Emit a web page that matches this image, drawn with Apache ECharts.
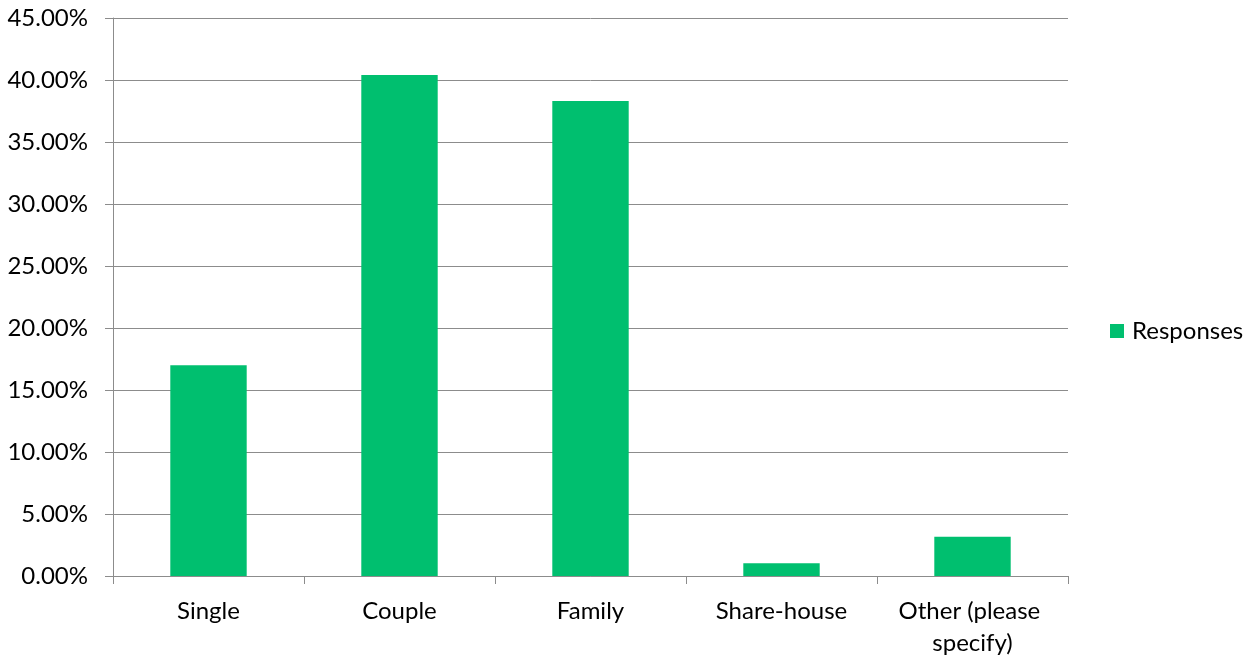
<!DOCTYPE html>
<html>
<head>
<meta charset="utf-8">
<script src="https://cdn.jsdelivr.net/npm/echarts@6/dist/echarts.min.js"></script>
<style>
  html, body { margin: 0; padding: 0; background: #fff; }
  #chart { width: 1258px; height: 660px; }
</style>
</head>
<body>
<div id="chart"></div>
<script>
// Household type of respondents, share of responses (%)
const categories = ['Single', 'Couple', 'Family', 'Share-house', 'Other (please specify)'];
const responses = [17.0, 40.4, 38.3, 1.02, 3.17];
const seriesName = 'Responses';

const FONT = 'Lato, "Open Sans", sans-serif';
const GREEN = '#00BF6F';
const AXIS_GRAY = '#8c8c8c';

const chart = echarts.init(document.getElementById('chart'));
chart.setOption({
  animation: false,
  backgroundColor: '#fff',
  textStyle: { fontFamily: FONT },
  legend: {
    data: [seriesName],
    orient: 'vertical',
    left: 1105,
    top: 314,
    itemWidth: 14,
    itemHeight: 14,
    itemGap: 8,
    icon: 'rect',
    textStyle: { fontFamily: FONT, fontSize: 24, color: '#000', padding: [0, 0, 0, 3] }
  },
  grid: { left: 113, right: 190, top: 18, bottom: 84, containLabel: false },
  xAxis: {
    type: 'category',
    data: categories,
    axisLine: { lineStyle: { color: AXIS_GRAY, width: 1 } },
    axisTick: { show: true, length: 8, lineStyle: { color: AXIS_GRAY } },
    axisLabel: {
      fontFamily: FONT, fontSize: 24, color: '#000', margin: 19,
      width: 175, overflow: 'break', lineHeight: 32, interval: 0
    }
  },
  yAxis: {
    type: 'value',
    min: 0, max: 45, interval: 5,
    axisLine: { show: true, lineStyle: { color: AXIS_GRAY, width: 1 } },
    axisTick: { show: true, length: 8, lineStyle: { color: AXIS_GRAY } },
    splitLine: { lineStyle: { color: AXIS_GRAY, width: 1 } },
    axisLabel: {
      fontFamily: FONT, fontSize: 24, color: '#000', margin: 25,
      formatter: v => v.toFixed(2) + '%'
    }
  },
  series: [{
    name: seriesName,
    type: 'bar',
    data: responses,
    barWidth: '40%',
    itemStyle: { color: GREEN }
  }]
});
</script>
</body>
</html>
